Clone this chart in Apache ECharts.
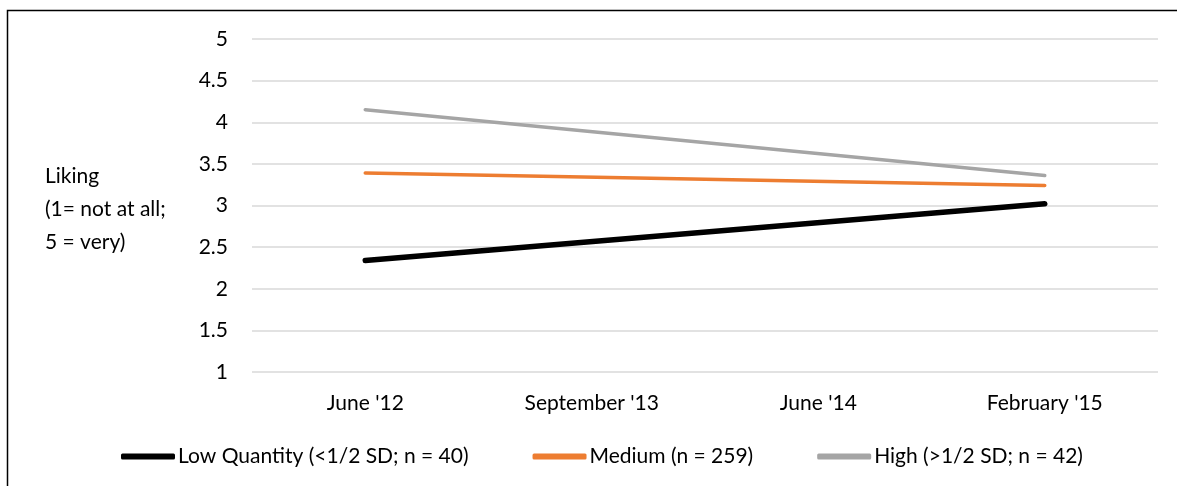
<!DOCTYPE html>
<html>
<head>
<meta charset="utf-8">
<script src="https://cdn.jsdelivr.net/npm/echarts@6/dist/echarts.min.js"></script>
<style>
html,body{margin:0;padding:0;background:#fff;}
#chart{width:1177px;height:486px;}
</style>
</head>
<body>
<div id="chart"></div>
<script>
const categories = ["June '12", "September '13", "June '14", "February '15"];
const lowQuantity = [2.34, null, null, 3.02];
const medium = [3.39, null, null, 3.24];
const high = [4.15, null, null, 3.36];
const yTicks = [1, 1.5, 2, 2.5, 3, 3.5, 4, 4.5, 5];
const seriesNames = ["Low Quantity (<1/2 SD; n = 40)", "Medium (n = 259)", "High (>1/2 SD; n = 42)"];
const yTitle = "Liking\n(1= not at all;\n5 = very)";

const FONT = 'Lato';
const FS = 21;
const chart = echarts.init(document.getElementById('chart'));
function mk(name, data, color, width) {
  return {
    name: name, type: 'line', data: data, connectNulls: true,
    symbol: 'none', animation: false,
    lineStyle: { color: color, width: width, cap: 'round' },
    itemStyle: { color: color }
  };
}
chart.setOption({
  animation: false,
  backgroundColor: '#fff',
  textStyle: { fontFamily: FONT },
  grid: { left: 252, right: 19, top: 39, bottom: 114 },
  xAxis: {
    type: 'category', data: categories, boundaryGap: true,
    axisLine: { show: false }, axisTick: { show: false },
    axisLabel: { color: '#000', fontSize: FS, fontFamily: FONT, margin: 21 }
  },
  yAxis: {
    type: 'value', min: yTicks[0], max: yTicks[yTicks.length - 1], interval: 0.5,
    axisLine: { show: false }, axisTick: { show: false },
    splitLine: { lineStyle: { color: '#d9d9d9', width: 1.5 } },
    axisLabel: { color: '#000', fontSize: FS, fontFamily: FONT, margin: 24 }
  },
  legend: {
    bottom: 14, left: 116, itemGap: 64, itemWidth: 54, itemHeight: 6,
    icon: 'roundRect',
    textStyle: { color: '#000', fontSize: FS, fontFamily: FONT, padding: [0, 0, 0, -2] },
    data: seriesNames
  },
  graphic: [
    { type: 'rect', silent: true, shape: { x: 7.5, y: 10.5, width: 1300, height: 600 },
      style: { fill: 'none', stroke: '#000', lineWidth: 1.5 } },
    { type: 'text', left: 45, top: 160, silent: true,
      style: { text: yTitle, font: FS + 'px ' + FONT, fill: '#000', lineHeight: 33 } }
  ],
  series: [
    mk(seriesNames[0], lowQuantity, '#000000', 5.5),
    mk(seriesNames[1], medium, '#ED7D31', 3.5),
    mk(seriesNames[2], high, '#A5A5A5', 3.5)
  ]
});
</script>
</body>
</html>
